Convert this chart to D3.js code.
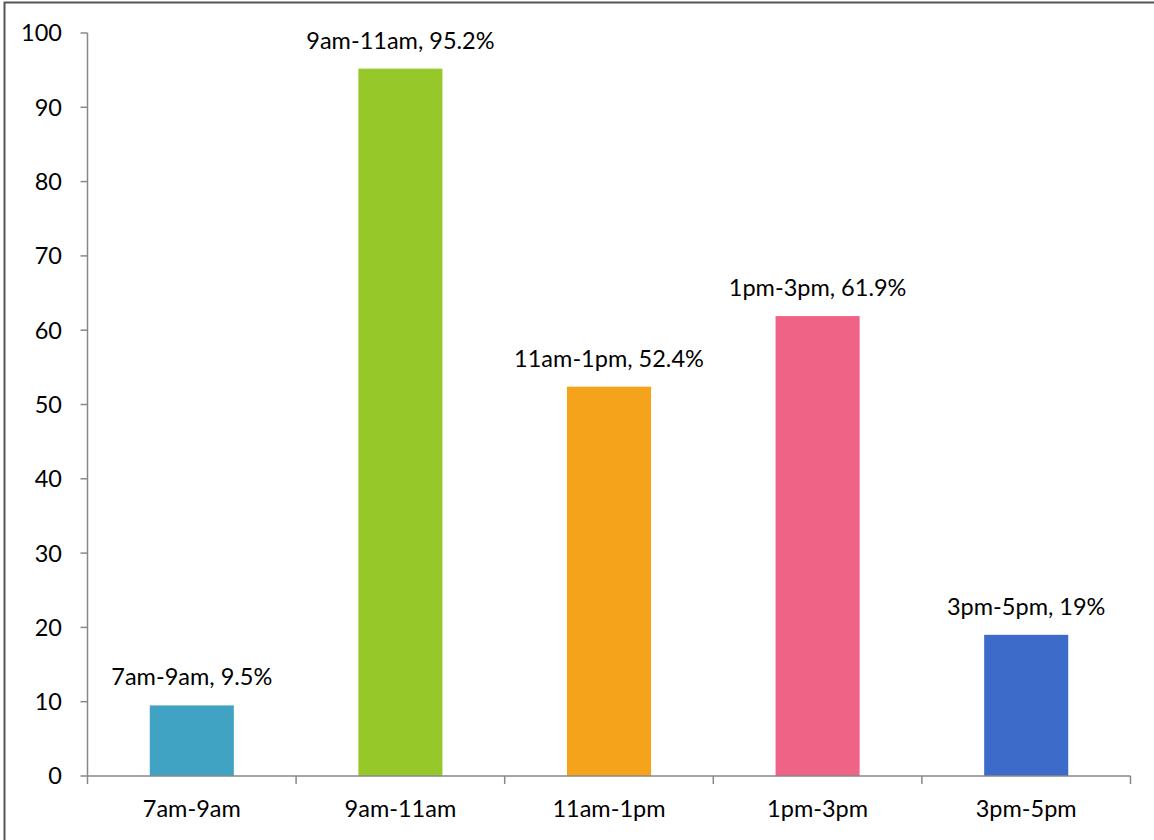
<!DOCTYPE html>
<html><head><meta charset="utf-8">
<script src="https://cdn.jsdelivr.net/npm/d3@7"></script>
<style>body{margin:0;background:#fff}svg{display:block}text{font-family:Lato,"Open Sans",sans-serif;fill:#000}</style>
</head><body><svg id="c" width="1154" height="840"></svg>
<script>
const categories = ["7am-9am","9am-11am","11am-1pm","1pm-3pm","3pm-5pm"];
const values = [9.5,95.2,52.4,61.9,19];
const valueLabels = ["9.5%","95.2%","52.4%","61.9%","19%"];
const colors = ["#40A3C3","#97C829","#F5A31A","#EF6386","#3C6BC9"];
const yTicks = [0,10,20,30,40,50,60,70,80,90,100];

const svg = d3.select("#c");
svg.append("path").attr("d","M4.5,840 V2.5 H1154").attr("fill","none").attr("stroke","#555").attr("stroke-width",2);

const x0 = 87.5, x1 = 1130.5, yTop = 33, yBot = 776;
const FS = 23.5;
const x = d3.scaleBand().domain(categories).range([x0,x1]).padding(0);
const y = d3.scaleLinear().domain([0,100]).range([yBot,yTop]);
const barW = x.bandwidth()*0.403;

// y axis
const ya = svg.append("g");
ya.append("line").attr("x1",x0).attr("x2",x0).attr("y1",yTop).attr("y2",yBot).attr("stroke","#888").attr("stroke-width",1.5);
yTicks.forEach(t=>{
  ya.append("line").attr("x1",x0-7).attr("x2",x0).attr("y1",y(t)).attr("y2",y(t)).attr("stroke","#888").attr("stroke-width",1.5);
  ya.append("text").attr("x",62).attr("y",y(t)).attr("dy","0.36em").attr("text-anchor","end").attr("font-size",FS).text(t);
});

// bars
svg.selectAll("rect.bar").data(values).join("rect").attr("class","bar")
  .attr("x",(d,i)=>x(categories[i])+x.bandwidth()/2-barW/2)
  .attr("width",barW)
  .attr("y",d=>y(d)).attr("height",d=>yBot-y(d))
  .attr("fill",(d,i)=>colors[i]);

// x axis
const xa = svg.append("g");
xa.append("line").attr("x1",x0).attr("x2",x1).attr("y1",yBot).attr("y2",yBot).attr("stroke","#888").attr("stroke-width",1.5);
const bounds = categories.map(c=>x(c)).concat([x1]);
bounds.forEach(b=>{
  xa.append("line").attr("x1",b).attr("x2",b).attr("y1",yBot).attr("y2",yBot+8).attr("stroke","#888").attr("stroke-width",1.5);
});
categories.forEach(c=>{
  xa.append("text").attr("x",x(c)+x.bandwidth()/2).attr("y",817).attr("text-anchor","middle").attr("font-size",FS).text(c);
});

// value labels
svg.selectAll("text.lbl").data(values).join("text").attr("class","lbl")
  .attr("x",(d,i)=>x(categories[i])+x.bandwidth()/2)
  .attr("y",d=>y(d)-20)
  .attr("text-anchor","middle").attr("font-size",FS)
  .text((d,i)=>categories[i]+", "+valueLabels[i]);
</script></body></html>
